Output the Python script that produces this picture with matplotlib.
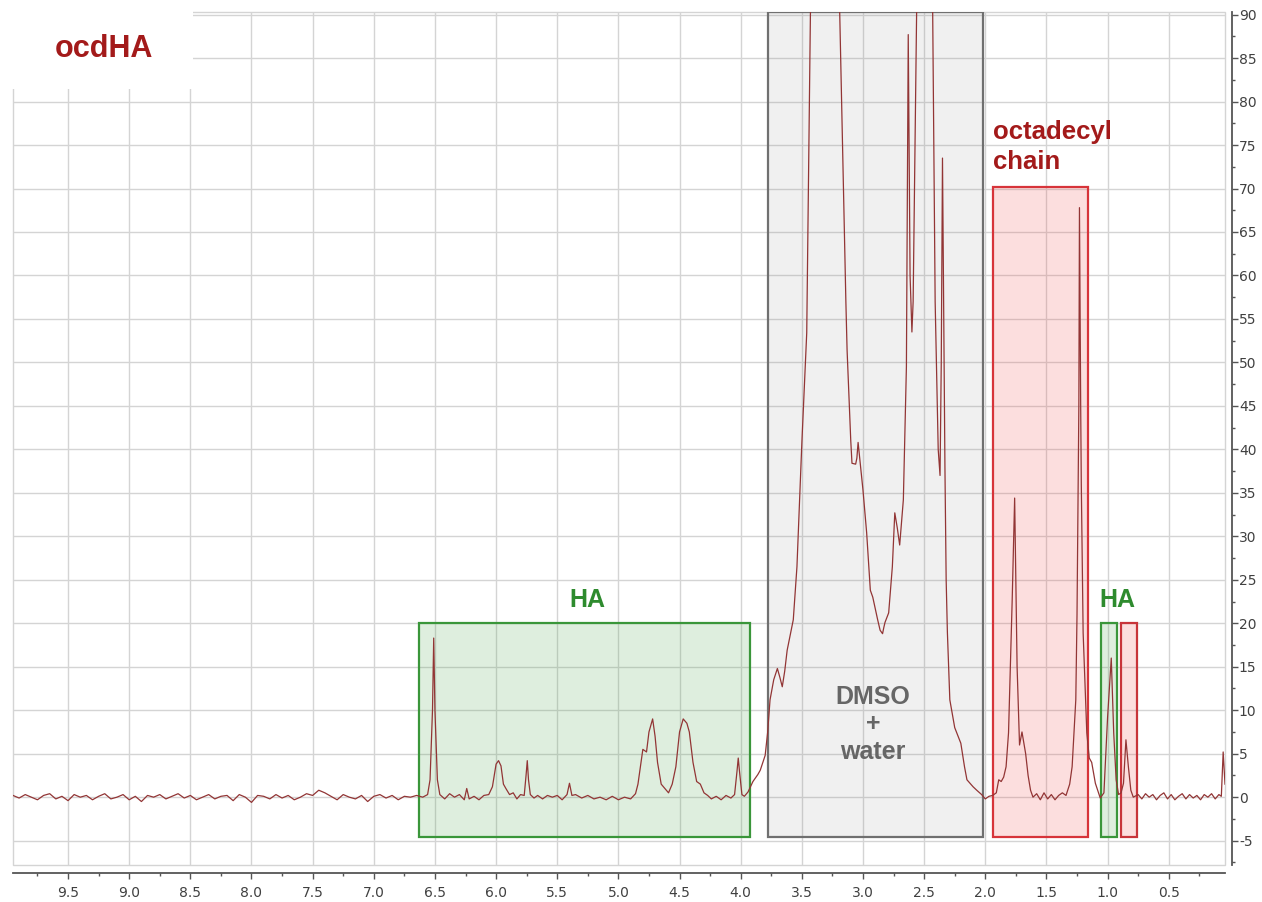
import numpy as np
import matplotlib
matplotlib.use("Agg")
import matplotlib.pyplot as plt
from matplotlib.patches import Rectangle
from matplotlib.ticker import MultipleLocator

plt.rcParams['axes.unicode_minus'] = False

# baseline noise 9.95 -> 6.65 ppm (every 0.05 ppm)
base_int = [0.2, -0.1, 0.3, 0.0, -0.3, 0.2, 0.4, -0.2, 0.1, -0.4,
            0.3, 0.0, 0.2, -0.3, 0.1, 0.4, -0.2, 0.0, 0.3, -0.3,
            0.1, -0.5, 0.2, 0.0, 0.3, -0.2, 0.1, 0.4, -0.1, 0.2,
            -0.3, 0.0, 0.3, -0.2, 0.1, 0.2, -0.4, 0.3, 0.0, -0.6,
            0.2, 0.1, -0.2, 0.3, -0.1, 0.2, -0.3, 0.0, 0.4, 0.2,
            0.8, 0.5, 0.1, -0.3, 0.3, 0.0, -0.2, 0.2, -0.5, 0.1,
            0.3, -0.1, 0.2, -0.3, 0.1, 0.0, 0.2]
base_ppm = np.linspace(9.95, 6.65, len(base_int))

# HA region
ha_ppm = [6.60, 6.56, 6.54, 6.52, 6.51, 6.50, 6.48, 6.46, 6.42, 6.38, 6.34, 6.30, 6.26, 6.24,
          6.22, 6.18, 6.14, 6.10, 6.06, 6.03, 6.00, 5.98, 5.96, 5.94, 5.92, 5.89, 5.86, 5.83,
          5.80, 5.77, 5.755, 5.745, 5.735, 5.72, 5.69, 5.66, 5.62, 5.58, 5.54, 5.50, 5.46, 5.42,
          5.40, 5.38, 5.35, 5.30, 5.25, 5.20, 5.15, 5.10, 5.05, 5.00, 4.95, 4.90, 4.86, 4.84,
          4.82, 4.80, 4.77, 4.75, 4.72, 4.70, 4.68, 4.65, 4.62, 4.59, 4.56, 4.53, 4.50, 4.47,
          4.44, 4.42, 4.39, 4.36, 4.33, 4.30, 4.27, 4.24, 4.20, 4.16, 4.12, 4.08, 4.05, 4.03,
          4.02, 4.01, 3.99, 3.97, 3.94]
ha_int = [0.0, 0.3, 2.0, 10.0, 18.3, 10.0, 2.0, 0.3, -0.2, 0.4, 0.0, 0.3, -0.3, 1.0,
          -0.2, 0.1, -0.3, 0.2, 0.3, 1.2, 3.8, 4.2, 3.6, 1.5, 1.0, 0.3, 0.5, -0.2,
          0.3, 0.2, 2.5, 4.2, 2.0, 0.3, -0.1, 0.2, -0.2, 0.2, 0.0, 0.2, -0.3, 0.3,
          1.6, 0.2, 0.3, -0.1, 0.2, -0.2, 0.0, -0.3, 0.1, -0.3, 0.0, -0.2, 0.4, 1.5,
          3.5, 5.5, 5.2, 7.5, 9.0, 7.0, 4.0, 1.5, 1.0, 0.5, 1.5, 3.5, 7.5, 9.0,
          8.5, 7.5, 4.0, 1.8, 1.5, 0.5, 0.2, -0.2, 0.1, -0.3, 0.2, -0.1, 0.3, 3.0,
          4.5, 3.0, 0.3, 0.1, 0.6]

# DMSO + water region
dmso_ppm = [3.90, 3.86, 3.84, 3.80, 3.78, 3.76, 3.73, 3.70, 3.68, 3.66, 3.64, 3.62, 3.57, 3.54,
            3.50, 3.46, 3.43, 3.30, 3.19, 3.14, 3.13, 3.10, 3.09, 3.06, 3.05, 3.04, 3.02, 3.00,
            2.97, 2.94, 2.92, 2.88, 2.86, 2.84, 2.83, 2.82, 2.79, 2.76, 2.74, 2.72, 2.70, 2.67,
            2.645, 2.63, 2.615, 2.60, 2.59, 2.56, 2.50, 2.43, 2.41, 2.385, 2.37, 2.36, 2.35, 2.34,
            2.33, 2.32, 2.31, 2.29, 2.25, 2.20, 2.17, 2.15, 2.10, 2.07, 2.03, 2.00, 1.97]
dmso_int = [1.8, 2.6, 3.1, 4.8, 7.4, 11.2, 13.5, 14.8, 13.8, 12.7, 14.5, 16.9, 20.4, 26.5,
            40.7, 53.4, 90.0, 150.0, 90.0, 57.0, 51.4, 41.0, 38.4, 38.3, 39.0, 40.8, 38.0, 35.3,
            30.4, 23.8, 23.0, 20.4, 19.2, 18.8, 19.5, 20.1, 21.2, 26.5, 32.7, 31.0, 29.0, 34.2,
            49.5, 87.7, 60.0, 53.5, 57.0, 92.0, 150.0, 90.0, 57.0, 40.0, 37.0, 50.0, 73.5, 55.0,
            38.0, 25.0, 19.0, 11.2, 8.0, 6.2, 3.5, 2.0, 1.2, 0.8, 0.3, -0.2, 0.1]

# octadecyl chain + HA (CH3) region
chain_ppm = [1.94, 1.91, 1.89, 1.87, 1.85, 1.83, 1.81, 1.78, 1.76, 1.74, 1.72, 1.70, 1.67, 1.65,
             1.63, 1.61, 1.58, 1.55, 1.52, 1.49, 1.46, 1.43, 1.40, 1.37, 1.34, 1.31, 1.29, 1.26,
             1.25, 1.235, 1.23, 1.22, 1.215, 1.20, 1.17, 1.15, 1.13, 1.10, 1.06, 1.03, 1.00, 0.97,
             0.95, 0.93, 0.91, 0.89, 0.87, 0.85, 0.83, 0.81, 0.79]
chain_int = [0.2, 0.5, 2.0, 1.8, 2.3, 3.5, 7.4, 22.7, 34.4, 15.0, 6.0, 7.5, 5.0, 2.5,
             0.8, 0.0, 0.4, -0.3, 0.5, -0.2, 0.3, -0.3, 0.2, 0.5, 0.2, 1.5, 3.5, 11.2,
             21.0, 45.0, 67.8, 45.0, 36.0, 18.9, 7.4, 4.5, 4.0, 1.6, -0.1, 0.5, 9.2, 16.0,
             7.4, 2.0, 0.3, 0.5, 1.6, 6.6, 3.5, 0.8, 0.0]

# right baseline + reference spike
tail_ppm = [0.75, 0.72, 0.69, 0.66, 0.63, 0.60, 0.57, 0.54, 0.51, 0.48, 0.45, 0.42, 0.39, 0.36,
            0.33, 0.30, 0.27, 0.24, 0.21, 0.18, 0.15, 0.12, 0.09, 0.07, 0.055, 0.045, 0.04]
tail_int = [0.3, -0.2, 0.4, 0.0, 0.3, -0.3, 0.2, 0.5, -0.2, 0.3, -0.3, 0.1, 0.4, -0.2,
            0.3, -0.1, 0.2, -0.3, 0.3, 0.0, 0.4, -0.2, 0.3, 0.1, 5.2, 2.8, 1.5]

ppm = np.concatenate([base_ppm, ha_ppm, dmso_ppm, chain_ppm, tail_ppm])
intensity = np.concatenate([base_int, ha_int, dmso_int, chain_int, tail_int])

# annotation boxes: (ppm high, ppm low, y bottom, y top)
box_ha = (6.63, 3.92, -4.6, 20.0)
box_dmso = (3.78, 2.02, -4.6, 90.25)
box_chain = (1.935, 1.16, -4.6, 70.2)
box_ha2 = (1.05, 0.92, -4.6, 20.0)
box_ch3 = (0.89, 0.76, -4.6, 20.0)

fig = plt.figure(figsize=(12.62, 9.02), dpi=100)
ax = fig.add_axes([13 / 1262, 1 - 865 / 902, 1212 / 1262, 853 / 902])
ax.set_xlim(9.95, 0.04)
ax.set_ylim(-7.8, 90.3)

ax.set_axisbelow(True)
ax.grid(True, which='major', color='#d4d4d4', lw=1.0)
ax.xaxis.set_major_locator(MultipleLocator(0.5))
ax.xaxis.set_minor_locator(MultipleLocator(0.25))
ax.yaxis.set_major_locator(MultipleLocator(5))
ax.yaxis.set_minor_locator(MultipleLocator(2.5))
ax.xaxis.set_major_formatter(matplotlib.ticker.FormatStrFormatter('%.1f'))
ax.yaxis.tick_right()

for side in ['left', 'top']:
    ax.spines[side].set_visible(False)
ax.spines['bottom'].set_position(('outward', 6))
ax.spines['right'].set_position(('outward', 5))
for side in ['bottom', 'right']:
    ax.spines[side].set_color('#555555')
    ax.spines[side].set_linewidth(1.3)
ax.add_patch(Rectangle((0, 0), 1, 1, transform=ax.transAxes, fill=False,
                       ec='#d4d4d4', lw=1.0, zorder=1, clip_on=False))

ax.tick_params(which='major', direction='out', length=4, width=1, color='#555555',
               labelcolor='#404040', labelsize=10)
ax.tick_params(which='minor', direction='out', length=2.5, width=1, color='#555555')
ax.tick_params(axis='y', which='both', pad=1)
ax.tick_params(axis='x', which='major', pad=5)

# white patch behind the sample name
ax.add_patch(Rectangle((8.476, 81.4), 1.6, 10, fc='white', ec='none', zorder=2, clip_on=False))


def add_box(b, fc, ec):
    hi, lo, y0, y1 = b
    ax.add_patch(Rectangle((lo, y0), hi - lo, y1 - y0, fc=fc, ec=ec, lw=1.6, zorder=3))


add_box(box_ha, (0.30, 0.65, 0.30, 0.18), '#3a963a')
add_box(box_dmso, (0.55, 0.55, 0.55, 0.13), '#707070')
add_box(box_chain, (0.95, 0.30, 0.30, 0.18), '#d7343a')
add_box(box_ha2, (0.30, 0.65, 0.30, 0.18), '#3a963a')
add_box(box_ch3, (0.95, 0.30, 0.30, 0.18), '#c8343a')

ax.plot(ppm, intensity, color='#923535', lw=0.9, zorder=4)

lab = dict(family='Liberation Sans', weight='bold', zorder=6)
ax.text(9.21, 86.0, 'ocdHA', color='#a31a1a', fontsize=22, ha='center', va='center', **lab)
ax.text(5.25, 22.7, 'HA', color='#2e8b2e', fontsize=18, ha='center', va='center', **lab)
ax.text(0.92, 22.7, 'HA', color='#2e8b2e', fontsize=18, ha='center', va='center', **lab)
ax.text(1.935, 76.5, 'octadecyl', color='#a31a1a', fontsize=18.5, ha='left', va='center', **lab)
ax.text(1.935, 73.0, 'chain', color='#a31a1a', fontsize=18.5, ha='left', va='center', **lab)
ax.text(2.92, 11.5, 'DMSO', color='#666666', fontsize=18, ha='center', va='center', **lab)
ax.text(2.92, 8.4, '+', color='#666666', fontsize=18, ha='center', va='center', **lab)
ax.text(2.92, 5.2, 'water', color='#666666', fontsize=18, ha='center', va='center', **lab)

fig.savefig('out.png', dpi=100)
